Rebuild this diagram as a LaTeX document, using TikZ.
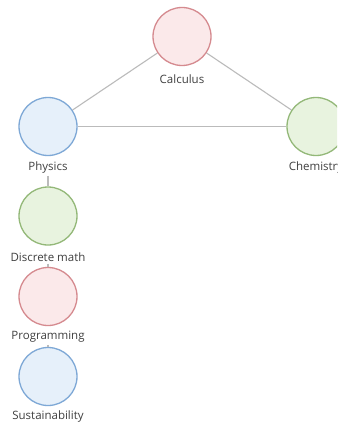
\documentclass[tikz,border=0pt]{standalone}
\usepackage{fontspec}
\setmainfont{Open Sans}
\definecolor{edgegray}{HTML}{BBBBBB}
\definecolor{txt}{HTML}{404040}
\definecolor{redfill}{HTML}{FBE9EA}
\definecolor{redline}{HTML}{D58A8F}
\definecolor{bluefill}{HTML}{E6F0FA}
\definecolor{blueline}{HTML}{7EA8D6}
\definecolor{greenfill}{HTML}{E8F3DF}
\definecolor{greenline}{HTML}{93B878}
\tikzset{
  topic/.style={circle, minimum size=58pt, inner sep=0pt, line width=1.3pt},
  redtopic/.style={topic, draw=redline, fill=redfill},
  bluetopic/.style={topic, draw=blueline, fill=bluefill},
  greentopic/.style={topic, draw=greenline, fill=greenfill},
  lbl/.style={text=txt, font=\fontsize{11.5}{13}\selectfont, inner sep=1pt},
  link/.style={draw=edgegray, line width=1.1pt}
}
\begin{document}
\begin{tikzpicture}[x=1pt,y=-1pt]
\clip (0,0) rectangle (337,425);
\fill[white] (0,0) rectangle (337,425);
\node[redtopic] (calc) at (182,36.5) {};
\node[bluetopic] (phys) at (48,126.5) {};
\node[greentopic] (chem) at (316,126.5) {};
\node[greentopic] (disc) at (48,216) {};
\node[redtopic] (prog) at (48,296.5) {};
\node[bluetopic] (sust) at (48,376.5) {};
\node[lbl] (calcl) at (182,79) {Calculus};
\node[lbl] (physl) at (48,168) {Physics};
\node[lbl] (cheml) at (316,168) {Chemistry};
\node[lbl] (discl) at (48,257) {Discrete math};
\node[lbl] (progl) at (48,337) {Programming};
\node[lbl] (sustl) at (48,417) {Sustainability};
\draw[link] (calc) -- (phys);
\draw[link] (calc) -- (chem);
\draw[link] (phys) -- (chem);
\draw[link] (physl.south) ++(0,1) -- (disc.north);
\draw[link] (discl.south) ++(0,1) -- (prog.north);
\draw[link] (progl.south) ++(0,1) -- (sust.north);
\end{tikzpicture}
\end{document}
